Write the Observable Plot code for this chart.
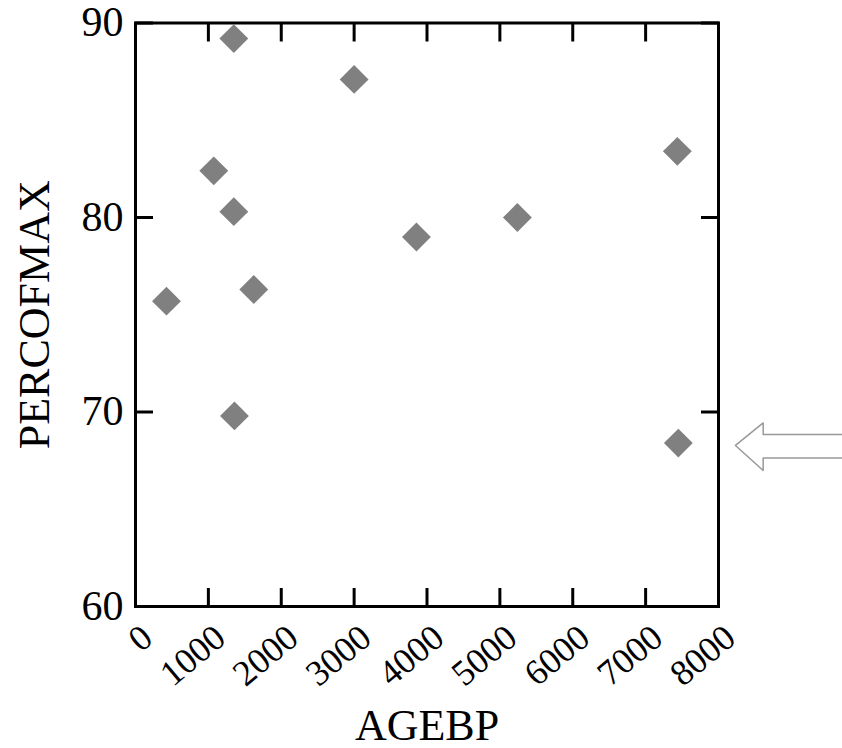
<!DOCTYPE html>
<html>
<head>
<meta charset="utf-8">
<script src="https://cdn.jsdelivr.net/npm/d3@7"></script>
<script src="https://cdn.jsdelivr.net/npm/@observablehq/plot@0.6"></script>
<style>
  html, body { margin: 0; padding: 0; background: #fff; }
  svg { display: block; }
</style>
</head>
<body>
<div id="chart"></div>
<script>
// Data
const agebp     = [425, 1074, 1349, 1349, 1358, 1623, 3000, 3855, 5240, 7435, 7449];
const percofmax = [75.7, 82.4, 89.2, 80.3, 69.8, 76.3, 87.1, 79.0, 80.0, 83.4, 68.4];
const xTicks = [0, 1000, 2000, 3000, 4000, 5000, 6000, 7000, 8000];
const yTicks = [60, 70, 80, 90];
// Annotation arrow outline (data units, pointing at the lowest point)
const arrowX = [9800, 8613, 8613, 8233, 8613, 8613, 9800];
const arrowY = [68.84, 68.84, 69.44, 68.28, 66.99, 67.64, 67.64];

const points = agebp.map((x, i) => ({x, y: percofmax[i]}));
const arrow = arrowX.map((x, i) => ({x, y: arrowY[i]}));

const tickCommon = {tickFormat: () => "", label: null, tickSize: -18, strokeWidth: 3, stroke: "#000"};

const chart = Plot.plot({
  width: 842,
  height: 748,
  marginLeft: 135,
  marginRight: 124,
  marginTop: 22.5,
  marginBottom: 142,
  style: {fontFamily: "'Liberation Serif', 'Times New Roman', serif", color: "#000", background: "#fff"},
  x: {domain: [0, 8000]},
  y: {domain: [60, 90]},
  marks: [
    Plot.frame({stroke: "#000", strokeWidth: 3}),
    Plot.axisX({anchor: "bottom", ticks: xTicks, ...tickCommon}),
    Plot.axisX({anchor: "top", ticks: xTicks, ...tickCommon}),
    Plot.axisY({anchor: "left", ticks: yTicks, ...tickCommon}),
    Plot.axisY({anchor: "right", ticks: yTicks, ...tickCommon}),
    // tick labels
    Plot.axisX({anchor: "bottom", ticks: xTicks, tickSize: 0, tickRotate: -40, tickPadding: 26, dx: 12,
      fontSize: 36, tickFormat: d => String(d), label: null}),
    Plot.axisY({anchor: "left", ticks: yTicks, tickSize: 0, tickPadding: 12, fontSize: 42,
      tickFormat: d => String(d), label: null}),
    // axis titles
    Plot.axisX({anchor: "bottom", ticks: xTicks, tickSize: 0, tickFormat: () => "", fontSize: 44,
      label: "AGEBP", labelAnchor: "center", labelArrow: "none", labelOffset: 133}),
    Plot.axisY({anchor: "left", ticks: yTicks, tickSize: 0, tickFormat: () => "", fontSize: 44,
      label: "PERCOFMAX", labelAnchor: "center", labelArrow: "none", labelOffset: 118}),
    Plot.dot(points, {x: "x", y: "y", symbol: "diamond2", r: 13, fill: "#808080", stroke: "none"}),
    Plot.line(arrow, {x: "x", y: "y", stroke: "#999", strokeWidth: 1.5, fill: "none", clip: false})
  ]
});
document.getElementById("chart").appendChild(chart);
</script>
</body>
</html>
